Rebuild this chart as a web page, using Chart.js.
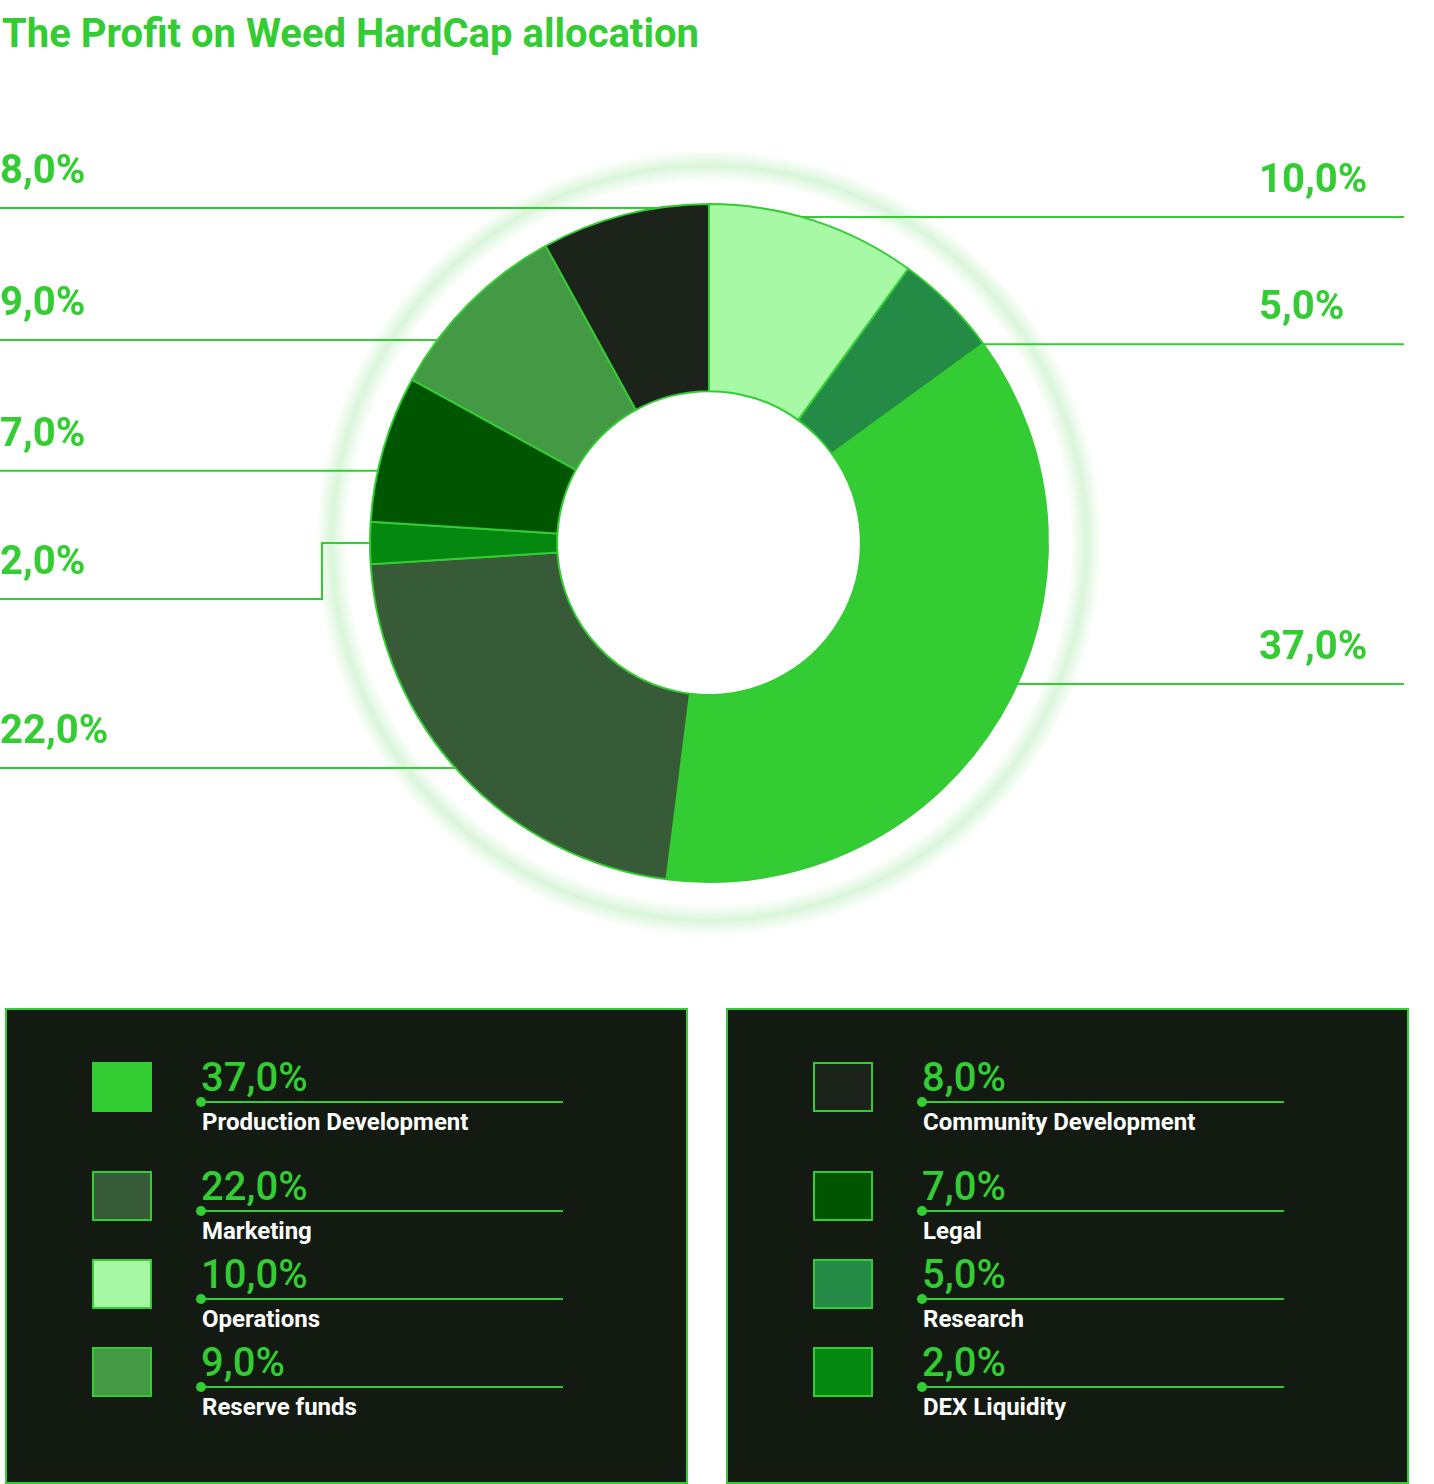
<!DOCTYPE html>
<html><head><meta charset="utf-8">
<script src="https://cdn.jsdelivr.net/npm/chart.js@4"></script>
<style>
html,body{margin:0;padding:0;background:#fff;}
body{width:1434px;height:1484px;position:relative;overflow:hidden;font-family:Roboto,"Noto Sans",sans-serif;}
#title{position:absolute;left:2px;top:14px;font-size:40px;line-height:40px;font-weight:700;color:#33cc33;white-space:nowrap;}
#chartBox{position:absolute;left:0;top:0;width:1434px;height:960px;}
.panel{position:absolute;top:1008px;height:476px;width:683px;box-sizing:border-box;border:2px solid #33cc33;background:#131a12;}
.sw{position:absolute;width:60px;height:50px;box-sizing:border-box;border:2px solid #33cc33;}
.pct{position:absolute;font-size:40px;line-height:40px;font-weight:500;color:#33cc33;white-space:nowrap;}
.lbl{position:absolute;font-size:24px;line-height:24px;font-weight:700;color:#fff;white-space:nowrap;}
.rule{position:absolute;height:2px;background:#33cc33;}
.dot{position:absolute;width:10px;height:10px;border-radius:50%;background:#33cc33;}
</style></head><body>
<div id="title">The Profit on Weed HardCap allocation</div>
<div id="chartBox"><canvas id="c"></canvas></div>
<div class="panel" id="p1" style="left:5px"></div>
<div class="panel" id="p2" style="left:726px"></div>
<script>
// ---- data ----
const categories = ['Operations','Research','Production Development','Marketing','DEX Liquidity','Legal','Reserve funds','Community Development'];
const shares = [10, 5, 37, 22, 2, 7, 9, 8];
const sliceColors = ['#a8f9a6','#248b46','#33cc33','#375a37','#05880f','#005500','#449944','#1b231b'];
const legendLeft = ['Production Development','Marketing','Operations','Reserve funds'];
const legendRight = ['Community Development','Legal','Research','DEX Liquidity'];

const fmt = v => v.toFixed(1).replace('.', ',') + '%';

// ---- leader-line layout (degrees shift from slice middle, elbow drop) ----
const leaderAngleShift = [-2.1, 9.1, -6, 1.6, 0, -3.9, -8.2, 5.5];
const leaderElbowDrop  = [0, 0, 0, 0, 56, 0, 0, 0];

const leaderPlugin = {
  id: 'leaders',
  beforeDatasetsDraw(chart, args, opts) {
    const ctx = chart.ctx;
    const arcs = chart.getDatasetMeta(0).data;
    if (!arcs.length) return;
    const cx = arcs[0].x, cy = arcs[0].y, R = arcs[0].outerRadius;
    ctx.save();
    // soft glow ring
    const gR = R * opts.glowRatio, gw = 16;
    const g = ctx.createRadialGradient(cx, cy, gR - gw, cx, cy, gR + gw);
    g.addColorStop(0, 'rgba(51,204,51,0)');
    g.addColorStop(0.5, 'rgba(51,204,51,0.18)');
    g.addColorStop(1, 'rgba(51,204,51,0)');
    ctx.fillStyle = g;
    ctx.beginPath();
    ctx.arc(cx, cy, gR + gw, 0, Math.PI * 2);
    ctx.arc(cx, cy, gR - gw, 0, Math.PI * 2, true);
    ctx.fill();
    // leader lines + labels
    ctx.strokeStyle = '#33cc33';
    ctx.fillStyle = '#33cc33';
    ctx.lineWidth = 2;
    ctx.font = '700 40px Roboto';
    ctx.textAlign = 'left';
    ctx.textBaseline = 'alphabetic';
    const W = chart.width;
    arcs.forEach((arc, i) => {
      const a = (arc.startAngle + arc.endAngle) / 2 + opts.angleShift[i] * Math.PI / 180;
      const y = cy + R * Math.sin(a);
      const left = Math.cos(a) < 0;
      const hx = Math.sqrt(Math.max(R * R - (y - cy) * (y - cy), 0));
      const hitX = left ? cx - hx : cx + hx;
      const drop = opts.elbowDrop[i] || 0;
      ctx.beginPath();
      if (left) {
        ctx.moveTo(hitX + 10, y);
        if (drop) {
          const ex = hitX - opts.elbowRun;
          ctx.lineTo(ex, y); ctx.lineTo(ex, y + drop); ctx.lineTo(0, y + drop);
        } else {
          ctx.lineTo(0, y);
        }
      } else {
        ctx.moveTo(hitX - 10, y);
        ctx.lineTo(W - opts.rightGap, y);
      }
      ctx.stroke();
      ctx.fillText(fmt(shares[i]), left ? 0 : W - opts.rightTextInset, y + drop - 25);
    });
    ctx.restore();
  }
};

new Chart(document.getElementById('c'), {
  type: 'doughnut',
  data: {
    labels: categories,
    datasets: [{
      data: shares,
      backgroundColor: sliceColors,
      borderColor: '#33cc33',
      borderWidth: 2,
      hoverOffset: 0
    }]
  },
  options: {
    responsive: true,
    maintainAspectRatio: false,
    animation: false,
    events: [],
    radius: 339,
    cutout: '44.8%',
    layout: { padding: { top: 126, right: 16, bottom: 0, left: 0 } },
    plugins: {
      legend: { display: false },
      tooltip: { enabled: false },
      leaders: {
        angleShift: leaderAngleShift,
        elbowDrop: leaderElbowDrop,
        elbowRun: 48,
        rightGap: 30,
        rightTextInset: 175,
        glowRatio: 1.113
      }
    }
  },
  plugins: [leaderPlugin]
});

// ---- legend panels ----
const rowLineY = [92, 201, 289, 377];
function buildPanel(el, names) {
  names.forEach((name, r) => {
    const i = categories.indexOf(name);
    const ly = rowLineY[r];
    const sw = document.createElement('div');
    sw.className = 'sw';
    sw.style.cssText = `left:85px;top:${ly - 40}px;background:${sliceColors[i]}`;
    el.appendChild(sw);
    const pct = document.createElement('div');
    pct.className = 'pct';
    pct.style.cssText = `left:194px;top:${ly - 44}px`;
    pct.textContent = fmt(shares[i]);
    el.appendChild(pct);
    const rule = document.createElement('div');
    rule.className = 'rule';
    rule.style.cssText = `left:193px;width:363px;top:${ly - 1}px`;
    el.appendChild(rule);
    const dot = document.createElement('div');
    dot.className = 'dot';
    dot.style.cssText = `left:189px;top:${ly - 5}px`;
    el.appendChild(dot);
    const lbl = document.createElement('div');
    lbl.className = 'lbl';
    lbl.style.cssText = `left:195px;top:${ly + 8}px`;
    lbl.textContent = name;
    el.appendChild(lbl);
  });
}
buildPanel(document.getElementById('p1'), legendLeft);
buildPanel(document.getElementById('p2'), legendRight);
</script>
</body></html>
